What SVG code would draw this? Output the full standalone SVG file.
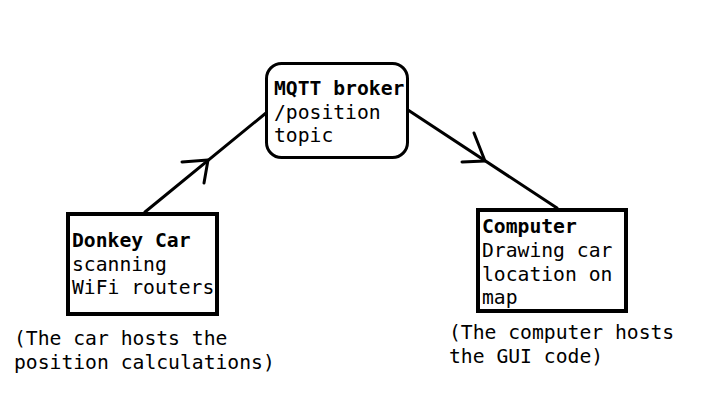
<svg xmlns="http://www.w3.org/2000/svg" width="704" height="400" viewBox="0 0 704 400">
<style>
text{font-family:"DejaVu Sans Mono","Liberation Mono",monospace;font-size:19.7px;fill:#000}
.b{font-weight:bold}
.box{fill:#fff;stroke:#000;stroke-width:4}
.ln{fill:none;stroke:#000;stroke-width:3;stroke-linecap:round;stroke-linejoin:round}
</style>
<rect width="704" height="400" fill="#fff"/>
<g id="connectors">
<path class="ln" d="M145 212 L266 113"/>
<path class="ln" d="M182 162 L208 160 L204 183"/>
<path class="ln" d="M408 110 L557 208"/>
<path class="ln" d="M474 133 L485 161 L462 162"/>
</g>
<g id="mqtt">
<rect x="266.5" y="63.5" width="141" height="94" rx="15" fill="#fff" stroke="#000" stroke-width="3"/>
<text x="274" y="95" class="b">MQTT broker</text>
<text x="274" y="119">/position</text>
<text x="274" y="142">topic</text>
</g>
<g id="donkey">
<rect class="box" x="68" y="214" width="149" height="100"/>
<text x="72" y="247" class="b">Donkey Car</text>
<text x="72" y="271">scanning</text>
<text x="72" y="294">WiFi routers</text>
</g>
<g id="computer">
<rect class="box" x="478" y="210" width="148" height="101"/>
<text x="482" y="233" class="b">Computer</text>
<text x="482" y="257">Drawing car</text>
<text x="482" y="281">location on</text>
<text x="482" y="304">map</text>
</g>
<g id="caption-car">
<text x="14" y="345">(The car hosts the</text>
<text x="14" y="369">position calculations)</text>
</g>
<g id="caption-computer">
<text x="449" y="339">(The computer hosts</text>
<text x="449" y="363">the GUI code)</text>
</g>
</svg>
